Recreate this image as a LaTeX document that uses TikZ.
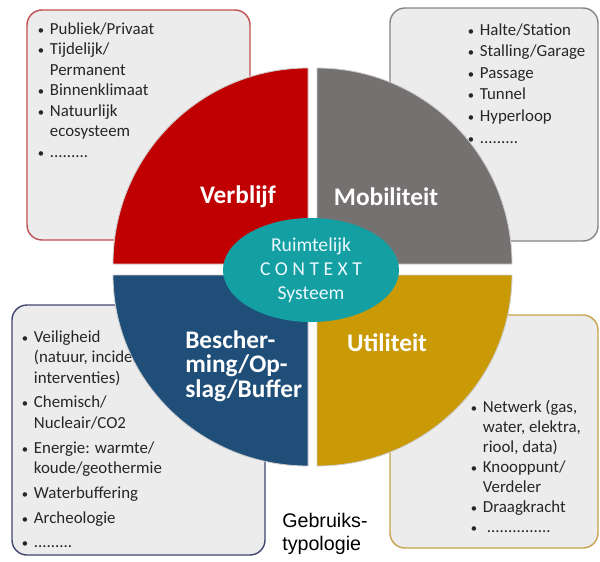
\documentclass[tikz,border=0pt]{standalone}
\usepackage{fontspec}
\setmainfont{Carlito}
\newfontfamily\arialfont{Liberation Sans}
\usetikzlibrary{shapes.geometric}

\definecolor{verblijf}{HTML}{C00000}
\definecolor{mobiliteit}{HTML}{767171}
\definecolor{bescherming}{HTML}{1F4E79}
\definecolor{utiliteit}{HTML}{C99A06}
\definecolor{context}{HTML}{14A0A3}
\definecolor{boxfill}{HTML}{ECECEC}
\definecolor{kaderrood}{HTML}{C0504D}
\definecolor{kadergrijs}{HTML}{858585}
\definecolor{kaderblauw}{HTML}{404470}
\definecolor{kadergoud}{HTML}{C8A24A}

% bullet line and continuation line of a list
\newcommand{\bitem}[1]{\makebox[9pt][l]{\hspace{0.5pt}{\small\textbullet}}#1}
\newcommand{\bnext}[1]{\hspace*{9pt}#1}

\begin{document}
\begin{tikzpicture}[x=0.025cm, y=-0.025cm,
  kader/.style={fill=boxfill, line width=1pt, rounded corners=0.375cm},
  lijst/.style={anchor=north west, inner sep=0pt, align=left, text=black!85},
  kwadrant/.style={draw=black!20, line width=0.6pt},
  titel/.style={text=white, inner sep=0pt, font=\fontsize{18}{17.5}\selectfont\bfseries}]
  \useasboundingbox (0,0) rectangle (600,561);

  % kaders achter de cirkel
  \draw[kader, draw=kaderrood] (27,10) rectangle (250,240);
  \draw[kader, draw=kadergrijs] (390,8) rectangle (598,241);
  \draw[kader, draw=kaderblauw] (12,305) rectangle (265,555);
  \draw[kader, draw=kadergoud] (390,315) rectangle (598,548);

  \node[lijst, font=\fontsize{12}{14.6}\selectfont] (verblijf-lijst) at (37,22)
    {\bitem{Publiek/Privaat}\\ \bitem{Tijdelijk/}\\ \bnext{Permanent}\\
     \bitem{Binnenklimaat}\\ \bitem{Natuurlijk}\\ \bnext{ecosysteem}\\ \bitem{.........}};
  \node[lijst, font=\fontsize{12}{15.4}\selectfont] (mobiliteit-lijst) at (467,23)
    {\bitem{Halte/Station}\\ \bitem{Stalling/Garage}\\ \bitem{Passage}\\
     \bitem{Tunnel}\\ \bitem{Hyperloop}\\ \bitem{.........}};
  \node[lijst, font=\fontsize{12}{14.6}\selectfont] (bescherming-lijst) at (21,330)
    {\bitem{Veiligheid}\\ \bnext{(natuur, incidenten,}\\ \bnext{interventies)}\\[3pt]
     \bitem{Chemisch/}\\ \bnext{Nucleair/CO2}\\[3pt]
     \bitem{Energie: warmte/}\\ \bnext{koude/geothermie}\\[3pt]
     \bitem{Waterbuffering}\\[3pt] \bitem{Archeologie}\\[3pt] \bitem{.........}};
  \node[lijst, font=\fontsize{12}{14.2}\selectfont] (utiliteit-lijst) at (470,400)
    {\bitem{Netwerk (gas,}\\ \bnext{water, elektra,}\\ \bnext{riool, data)}\\
     \bitem{Knooppunt/}\\ \bnext{Verdeler}\\ \bitem{Draagkracht}\\ \bitem{\ ...............}};

  % de vier kwadranten
  \path[kwadrant, fill=verblijf] (308,264) -- ++(-195,0)
    arc[start angle=180, end angle=270, x radius=195, y radius=196] -- cycle;
  \path[kwadrant, fill=mobiliteit] (317,264) -- ++(195,0)
    arc[start angle=0, end angle=-90, x radius=195, y radius=196] -- cycle;
  \path[kwadrant, fill=bescherming] (308,275) -- ++(-195,0)
    arc[start angle=180, end angle=90, x radius=195, y radius=191] -- cycle;
  \path[kwadrant, fill=utiliteit] (317,275) -- ++(195,0)
    arc[start angle=0, end angle=90, x radius=195, y radius=191] -- cycle;

  \node[titel] (verblijf) at (238,197) {Verblijf};
  \node[titel] (mobiliteit) at (386,197) {Mobiliteit};
  \node[titel, anchor=west, align=left] (bescherming) at (185,366) {Bescher-\\ming/Op-\\slag/Buffer};
  \node[titel] (utiliteit) at (387,343) {Utiliteit};

  \node[ellipse, fill=context, minimum width=4.4cm, minimum height=2.6cm, inner sep=0pt,
    align=center, text=cyan!8, font=\fontsize{14}{17}\selectfont] (ctx) at (311,270)
    {Ruimtelijk\\C O N T E X T\\Systeem};

  \node[anchor=west, align=left, inner sep=0pt, font=\arialfont\fontsize{14}{16}\selectfont]
    (typologie) at (282,534) {Gebruiks-\\typologie};
\end{tikzpicture}
\end{document}
